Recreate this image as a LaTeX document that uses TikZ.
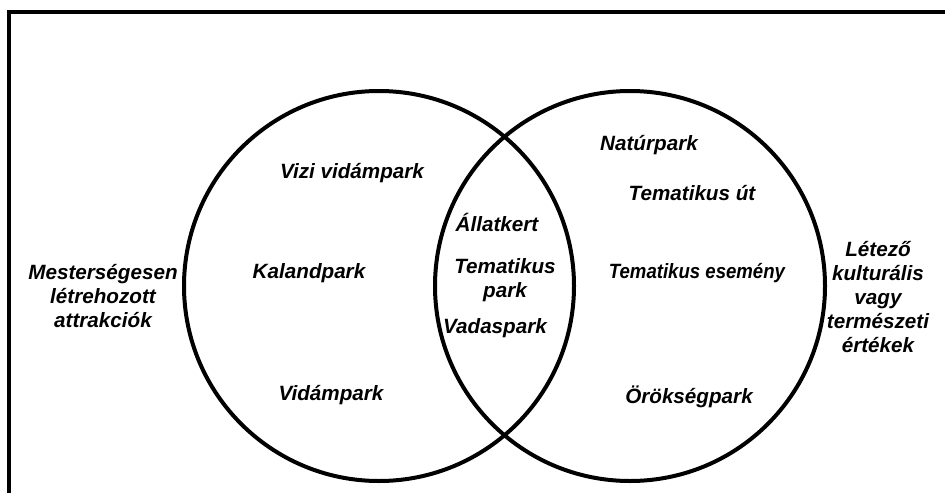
\documentclass[tikz,border=0pt]{standalone}
\usepackage{graphicx}
\usepackage{fontspec}
\setmainfont{Liberation Sans}
\begin{document}
\begin{tikzpicture}[x=0.75pt,y=-0.75pt,line width=3pt,
    set node/.style={circle,draw,minimum size=292.5pt,inner sep=0pt},
    item/.style={font=\fontsize{15.5}{18}\selectfont\bfseries\itshape,align=center,inner sep=1pt}]
        \useasboundingbox (0,0) rectangle (945,493);
        \draw (9,493) -- (9,12) -- (945,12);
        \node[set node] (left) at (379,286) {};
        \node[set node] (right) at (630,286) {};
        \node[item] (artificial) at (103,296) {Mesterségesen\\létrehozott\\attrakciók};
        \node[item] (existing) at (878,297) {Létező\\kulturális\\vagy\\természeti\\értékek};
        \node[item] (water) at (352,173) {Vizi vidámpark};
        \node[item] (adventure) at (309,273) {Kalandpark};
        \node[item] (fun) at (331,395) {Vidámpark};
        \node[item] (zoo) at (497,222) {Állatkert};
        \node[item] (theme) at (505,280) {Tematikus\\park};
        \node[item] (game) at (495,328) {Vadaspark};
        \node[item] (nature) at (649,145) {Natúrpark};
        \node[item] (route) at (692,193) {Tematikus út};
        \node[item] (event) at (697,273) {\scalebox{0.9}[1]{Tematikus esemény}};
        \node[item] (heritage) at (689,397) {Örökségpark};
    \end{tikzpicture}
\end{document}
